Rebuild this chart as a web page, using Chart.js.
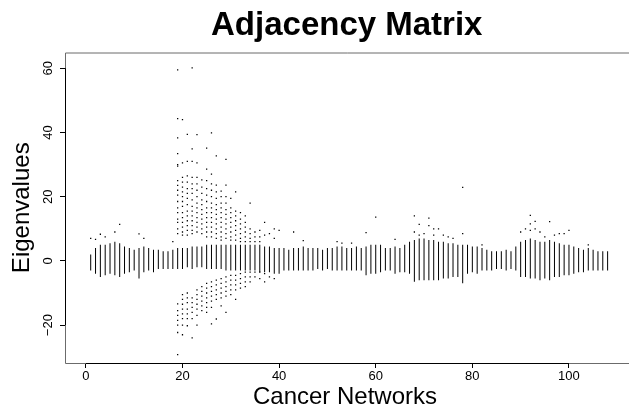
<!DOCTYPE html>
<html>
<head>
<meta charset="utf-8">
<title>Adjacency Matrix</title>
<script src="https://cdn.jsdelivr.net/npm/chart.js@4.4.1/dist/chart.umd.min.js"></script>
<style>
  html, body { margin: 0; padding: 0; background: #fff; }
  #wrap { width: 629px; height: 409px; }
</style>
</head>
<body>
<div id="wrap"><canvas id="eig" width="629" height="409"></canvas></div>
<script>
// eigenvalue spread per cancer network
// dense central band: lowest / highest eigenvalue of each network
const bandLow = [
  -3, -4, -5, -4.5, -4, -4.5, -5, -4, -3.5, -3,
  -5.5, -3.5, -3, -3.5, -2.5, -2.5, -2.5, -2.5, -2.5, -2.5,
  -2, -2.5, -2, -2, -2.5, -2.5, -2.5, -2.5, -3, -3,
  -3, -3, -3, -3, -3, -3.5, -3.5, -3.5, -4, -4,
  -3, -3, -3, -3, -3, -3, -3, -2.5, -3, -2.5,
  -3, -3, -3, -3, -3, -3, -3, -4.5, -4, -4,
  -3.5, -3, -3, -4, -3.5, -3.5, -4, -6.5, -6, -6,
  -6, -6, -6, -5.5, -5.5, -5, -5, -7, -4, -3.5,
  -4, -3, -3, -3, -2.5, -2.5, -3, -2.5, -3, -5,
  -5, -5.5, -5.5, -6, -5.5, -6, -5, -5, -4.5, -4.5,
  -4, -3.5, -3.5, -3, -3, -3, -3, -3
];
const bandHigh = [
  2, 4, 5, 5, 5.5, 6, 5.5, 4.5, 4, 3.5,
  4, 4.5, 4, 3.5, 3.5, 3, 3, 3.5, 4, 4,
  4, 4.5, 4.5, 4.5, 5, 5, 5, 5, 5, 5,
  5, 5, 5, 5, 5, 5, 4.5, 4.5, 4, 4,
  4, 3.5, 4, 4, 4.5, 4, 4, 4, 3.5, 4,
  4, 4.5, 4.5, 4, 4, 4.5, 4, 4.5, 5, 5,
  5, 4, 4, 4.5, 4, 5, 6, 6.5, 7, 7,
  6.5, 6.5, 6, 6, 5.5, 5.5, 5, 5, 5, 4.5,
  4.5, 4, 3.5, 3, 3, 3, 3.5, 3, 4.5, 6,
  6.5, 7, 6.5, 6, 6, 6.5, 6, 5.5, 5, 5,
  4.5, 4, 3.5, 4, 3.5, 3, 3, 3
];

// eigenvalues lying away from the band: [network, eigenvalue]
const scattered = [
  [1, 7], [2, 6.7], [3, 8.3], [4, 7.5], [6, 9], [7, 11.4], [11, 8.4], [12, 7], [18, 6],
  [19, 59.5], [19, 44.3], [19, 38.3], [19, 33.4], [19, 30], [19, 29.5], [19, 25], [19, 23.5],
  [19, 22], [19, 20.5], [19, 18.5], [19, 16.5], [19, 15], [19, 13], [19, 12], [19, 10], [19, 8.5],
  [19, -13.4], [19, -15.5], [19, -17], [19, -18.5], [19, -20], [19, -22.3], [19, -29.2],
  [20, 44], [20, 30.5], [20, 26], [20, 24.5], [20, 23], [20, 21.5], [20, 20], [20, 18.5],
  [20, 17], [20, 15], [20, 13.5], [20, 12], [20, 10.5], [20, 9], [20, 8],
  [20, -10.5], [20, -12], [20, -13.5], [20, -15], [20, -16.5], [20, -18], [20, -20], [20, -23],
  [21, 39.4], [21, 31], [21, 26.5], [21, 24.5], [21, 22.5], [21, 21], [21, 19.5], [21, 17.5],
  [21, 15.5], [21, 14], [21, 12.5], [21, 11], [21, 9.5], [21, 8],
  [21, -10], [21, -11.5], [21, -13], [21, -15], [21, -16.5], [21, -18], [21, -20.2],
  [22, 60.1], [22, 34.9], [22, 31], [22, 26], [22, 24], [22, 22.5], [22, 21], [22, 19],
  [22, 17], [22, 15.5], [22, 14], [22, 12.5], [22, 11], [22, 9.5], [22, 8.5],
  [22, -11.5], [22, -13], [22, -14.5], [22, -16], [22, -18], [22, -24],
  [23, 39.3], [23, 30.5], [23, 26], [23, 24], [23, 22], [23, 20], [23, 18], [23, 16.5],
  [23, 15], [23, 13.5], [23, 12], [23, 10.5], [23, 9],
  [23, -9], [23, -10.5], [23, -12], [23, -13.5], [23, -15], [23, -17], [23, -20],
  [24, 25.2], [24, 23], [24, 21], [24, 19], [24, 17.5], [24, 16], [24, 14.5], [24, 13],
  [24, 11.5], [24, 10], [24, 8.5],
  [24, -8], [24, -9.5], [24, -11], [24, -12.5], [24, -14], [24, -15.5],
  [25, 35.1], [25, 28.6], [25, 25], [25, 22.5], [25, 20.5], [25, 18.5], [25, 16.5], [25, 15],
  [25, 13.5], [25, 12], [25, 10.5], [25, 9], [25, 7.5],
  [25, -7], [25, -8.5], [25, -10], [25, -11.5], [25, -13], [25, -14.5], [25, -16],
  [26, 39.9], [26, 27], [26, 24], [26, 22], [26, 20], [26, 18], [26, 16.5], [26, 15],
  [26, 13.5], [26, 12], [26, 10.5], [26, 9], [26, 7.5],
  [26, -6.5], [26, -8], [26, -9.5], [26, -11], [26, -12.5], [26, -14.5], [26, -19.6],
  [27, 32.7], [27, 23.6], [27, 21.5], [27, 19.5], [27, 17.5], [27, 16], [27, 14.5], [27, 13],
  [27, 11.5], [27, 10], [27, 8.5], [27, 7],
  [27, -6], [27, -7.5], [27, -9], [27, -10.5], [27, -12], [27, -18.1],
  [28, 21.7], [28, 20], [28, 18], [28, 16.5], [28, 15], [28, 13.5], [28, 12], [28, 10.5],
  [28, 9], [28, 7.5], [28, 6.5],
  [28, -5.5], [28, -7], [28, -8.5], [28, -10], [28, -11.5], [28, -14],
  [29, 31.6], [29, 23.6], [29, 20], [29, 18], [29, 16], [29, 14.5], [29, 13], [29, 11.5],
  [29, 10], [29, 8.5], [29, 7],
  [29, -5], [29, -6.5], [29, -8], [29, -9.5], [29, -11], [29, -16],
  [30, 19.5], [30, 16.5], [30, 15], [30, 13.5], [30, 12], [30, 10.5], [30, 9], [30, 7.5], [30, 6.5],
  [30, -4.5], [30, -6], [30, -7.5], [30, -9], [30, -10.5],
  [31, 21.5], [31, 15.5], [31, 14], [31, 12.5], [31, 11], [31, 9.5], [31, 8], [31, 6.5],
  [31, -4.5], [31, -6], [31, -7.5], [31, -9], [31, -12],
  [32, 15], [32, 13], [32, 11.5], [32, 10], [32, 8.5], [32, 7], [32, 6],
  [32, -4], [32, -5.5], [32, -7], [32, -8.5],
  [33, 14], [33, 12], [33, 10.5], [33, 9], [33, 7.5], [33, 6],
  [33, -3.5], [33, -5], [33, -6.5], [33, -8],
  [34, 18], [34, 10], [34, 8.5], [34, 7], [34, 6], [34, -3.5], [34, -5], [34, -6.5],
  [35, 9], [35, 7.5], [35, 6], [35, -3.5], [35, -5],
  [36, 9.5], [36, 7.5], [36, 6], [36, -3.5], [36, -5.5],
  [37, 12], [37, 8], [37, -4], [37, -6.5],
  [38, 8.5], [38, -5], [39, 10], [39, 7], [39, -5.5], [40, 9.5],
  [43, 9], [45, 6.3], [52, 6], [53, 5.5], [55, 5.5], [58, 8.8], [60, 13.6], [64, 6.7],
  [68, 14], [68, 9], [69, 11.4], [69, 8], [70, 8.5], [71, 13.3], [71, 11], [72, 10], [72, 8],
  [73, 10], [74, 8], [75, 7.5], [76, 7], [78, 22.9], [78, 8.5], [82, 5],
  [90, 9], [91, 10], [92, 14.2], [92, 11.5], [92, 9.5], [93, 12.3], [93, 10], [94, 9],
  [95, 7.5], [96, 12.2], [97, 8], [98, 8.5], [99, 8.5], [100, 9.5], [104, 5]
];

const xTicks = [0, 20, 40, 60, 80, 100];
const yTicks = [-20, 0, 20, 40, 60];

const FONT = "'Liberation Sans', Arial, Helvetica, sans-serif";

const networks = bandLow.map((v, i) => i + 1);

// R style box + title
const framePlugin = {
  id: 'frame',
  afterDraw(chart) {
    const { ctx, chartArea, scales } = chart;
    const x = scales.x, y = scales.y;
    ctx.save();
    ctx.lineWidth = 1;
    ctx.strokeStyle = '#6b6b6b';
    ctx.beginPath();
    ctx.moveTo(chart.width + 5, chartArea.top + 0.5);
    ctx.lineTo(chartArea.left + 0.5, chartArea.top + 0.5);
    ctx.lineTo(chartArea.left + 0.5, chartArea.bottom + 0.5);
    ctx.lineTo(chart.width + 5, chartArea.bottom + 0.5);
    ctx.stroke();
    // axis lines from first to last tick
    ctx.strokeStyle = '#000';
    ctx.beginPath();
    ctx.moveTo(x.getPixelForValue(xTicks[0]), chartArea.bottom + 0.5);
    ctx.lineTo(x.getPixelForValue(xTicks[xTicks.length - 1]), chartArea.bottom + 0.5);
    ctx.moveTo(chartArea.left + 0.5, y.getPixelForValue(yTicks[0]));
    ctx.lineTo(chartArea.left + 0.5, y.getPixelForValue(yTicks[yTicks.length - 1]));
    ctx.stroke();
    // main title, centred on the plot region
    ctx.fillStyle = '#000';
    ctx.font = 'bold 33px ' + FONT;
    ctx.textAlign = 'center';
    ctx.textBaseline = 'alphabetic';
    ctx.fillText('Adjacency Matrix', x.getPixelForValue(54), 35);
    ctx.restore();
  }
};

const ctx = document.getElementById('eig').getContext('2d');
const eigChart = new Chart(ctx, {
  type: 'bar',
  data: {
    datasets: [
      {
        type: 'bar',
        label: 'band',
        data: networks.map((n, i) => ({ x: n, y: [bandLow[i], bandHigh[i]] })),
        backgroundColor: '#000',
        borderWidth: 0,
        inflateAmount: 0,
        barThickness: 1
      },
      {
        type: 'scatter',
        label: 'eigenvalues',
        data: scattered.map(p => ({ x: p[0], y: p[1] })),
        pointStyle: 'rect',
        pointRadius: 0.9,
        pointBorderWidth: 0,
        backgroundColor: '#000',
        borderColor: '#000'
      }
    ]
  },
  options: {
    responsive: false,
    animation: false,
    layout: { padding: { top: 52.5, left: 0, right: 0, bottom: 0 } },
    plugins: { legend: { display: false }, tooltip: { enabled: false }, title: { display: false } },
    scales: {
      x: {
        type: 'linear',
        offset: false,
        min: -4.32,
        max: 111.6,
        afterBuildTicks: s => { s.ticks = xTicks.map(v => ({ value: v })); },
        afterFit: s => { s.height = 46; },
        grid: { offset: false, drawOnChartArea: false, drawTicks: true, tickLength: 5, color: '#000' },
        border: { display: false },
        ticks: { color: '#000', font: { family: FONT, size: 13 }, padding: 1, maxRotation: 0, autoSkip: false },
        title: { display: true, text: 'Cancer Networks', color: '#000',
                 font: { family: FONT, size: 24, lineHeight: 1 }, padding: 0 }
      },
      y: {
        min: -31.8,
        max: 64.9,
        afterBuildTicks: s => { s.ticks = yTicks.map(v => ({ value: v })); },
        afterFit: s => { s.width = 65; },
        grid: { drawOnChartArea: false, drawTicks: true, tickLength: 5, color: '#000' },
        border: { display: false },
        ticks: { color: '#000', font: { family: FONT, size: 13 }, padding: 1,
                 minRotation: 90, maxRotation: 90, crossAlign: 'center',
                 callback: v => (v < 0 ? '\u2212' + Math.abs(v) : String(v)) },
        title: { display: true, text: 'Eigenvalues', color: '#000',
                 font: { family: FONT, size: 24, lineHeight: 1 }, padding: { top: 10, bottom: 0 } }
      }
    }
  },
  plugins: [framePlugin]
});
</script>
</body>
</html>
